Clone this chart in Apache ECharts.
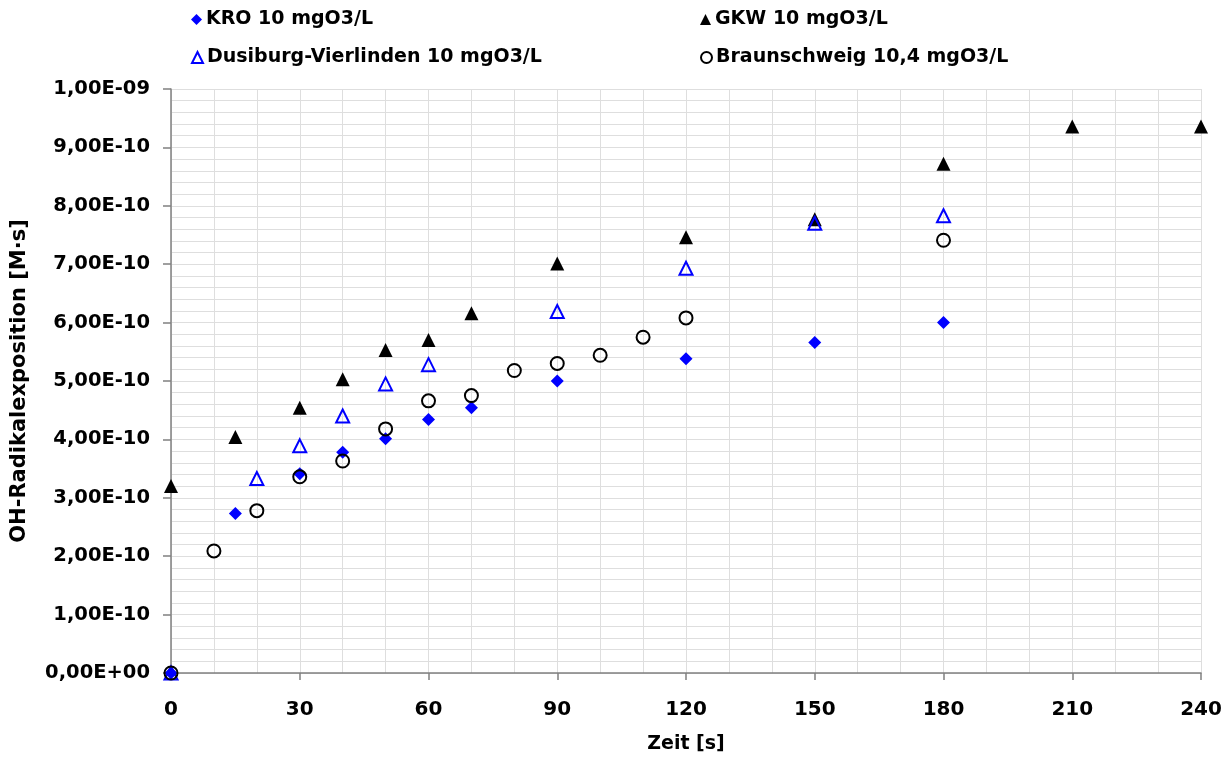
<!DOCTYPE html>
<html>
<head>
<meta charset="utf-8">
<script src="https://cdn.jsdelivr.net/npm/echarts@6/dist/echarts.min.js"></script>
<style>
  html, body { margin: 0; padding: 0; background: #fff; }
  #main { width: 1228px; height: 760px; }
</style>
</head>
<body>
<div id="main"></div>
<script>
// Zeit [s] / OH-Radikalexposition [M·s]
const kroX = [0, 15, 30, 40, 50, 60, 70, 90, 120, 150, 180];
const kroY = [0, 2.73e-10, 3.41e-10, 3.78e-10, 4.01e-10, 4.34e-10, 4.54e-10, 5.00e-10, 5.38e-10, 5.66e-10, 6.00e-10];

const gkwX = [0, 15, 30, 40, 50, 60, 70, 90, 120, 150, 180, 210, 240];
const gkwY = [3.20e-10, 4.04e-10, 4.54e-10, 5.03e-10, 5.53e-10, 5.70e-10, 6.16e-10, 7.01e-10, 7.46e-10, 7.77e-10, 8.72e-10, 9.36e-10, 9.36e-10];

const duiX = [0, 20, 30, 40, 50, 60, 90, 120, 150, 180];
const duiY = [0, 3.33e-10, 3.89e-10, 4.40e-10, 4.95e-10, 5.28e-10, 6.19e-10, 6.93e-10, 7.70e-10, 7.83e-10];

const braX = [0, 10, 20, 30, 40, 50, 60, 70, 80, 90, 100, 110, 120, 180];
const braY = [0, 2.09e-10, 2.78e-10, 3.36e-10, 3.63e-10, 4.18e-10, 4.66e-10, 4.75e-10, 5.18e-10, 5.30e-10, 5.44e-10, 5.75e-10, 6.08e-10, 7.41e-10];

const names = ["KRO 10 mgO3/L", "GKW 10 mgO3/L", "Dusiburg-Vierlinden 10 mgO3/L", "Braunschweig 10,4 mgO3/L"];

function pairs(xs, ys) {
  return xs.map((x, i) => [x, ys[i]]);
}

function fmtExp(v) {
  let s = Number(v).toExponential(2); // e.g. 3.00e-10
  let parts = s.split("e");
  let mant = parts[0].replace(".", ",");
  let e = parseInt(parts[1], 10);
  let sign = e < 0 ? "-" : "+";
  let ea = Math.abs(e);
  return mant + "E" + sign + (ea < 10 ? "0" + ea : ea);
}

const font = "DejaVu Sans";
const gridColor = "#dedede";
const axisColor = "#808080";

let chart = echarts.init(document.getElementById("main"));

function legendAt(name, left, top) {
  return {
    data: [name],
    left: left,
    top: top,
    itemWidth: 11,
    itemHeight: 11,
    itemGap: 0,
    textStyle: { fontFamily: font, fontWeight: "bold", fontSize: 19, color: "#000", padding: [0, 0, 0, -1] },
  };
}

let option = {
  animation: false,
  backgroundColor: "#fff",
  legend: [
    legendAt(names[0], 186, 5),
    legendAt(names[1], 695, 5),
    legendAt(names[2], 186, 43),
    legendAt(names[3], 695, 43),
  ],
  grid: { left: 171, right: 27, top: 89, bottom: 87 },
  xAxis: {
    type: "value",
    min: 0,
    max: 240,
    interval: 30,
    name: "Zeit [s]",
    nameLocation: "middle",
    nameGap: 62,
    nameTextStyle: { fontFamily: font, fontWeight: "bold", fontSize: 19, color: "#000" },
    axisLine: { show: true, lineStyle: { color: axisColor, width: 1.5 } },
    axisTick: { show: true, length: 7, lineStyle: { color: axisColor, width: 1.5 } },
    axisLabel: { margin: 27, fontFamily: font, fontWeight: "bold", fontSize: 20, color: "#000" },
    splitLine: { show: true, lineStyle: { color: gridColor, width: 1 } },
    minorTick: { show: false, splitNumber: 3 },
    minorSplitLine: { show: true, lineStyle: { color: gridColor, width: 1 } },
  },
  yAxis: {
    type: "value",
    min: 0,
    max: 1e-9,
    interval: 1e-10,
    name: "OH-Radikalexposition [M·s]",
    nameLocation: "middle",
    nameGap: 141,
    nameTextStyle: { fontFamily: font, fontWeight: "bold", fontSize: 21, color: "#000" },
    axisLine: { show: true, lineStyle: { color: axisColor, width: 1.5 } },
    axisTick: { show: true, length: 8, lineStyle: { color: axisColor, width: 1.5 } },
    axisLabel: {
      margin: 21,
      fontFamily: font,
      fontWeight: "bold",
      fontSize: 19.5,
      color: "#000",
      formatter: fmtExp,
    },
    splitLine: { show: true, lineStyle: { color: gridColor, width: 1 } },
    minorTick: { show: false, splitNumber: 5 },
    minorSplitLine: { show: true, lineStyle: { color: gridColor, width: 1 } },
  },
  series: [
    {
      name: names[0],
      type: "scatter",
      symbol: "diamond",
      symbolSize: 13,
      itemStyle: { color: "#0000ff", opacity: 1 },
      data: pairs(kroX, kroY),
    },
    {
      name: names[1],
      type: "scatter",
      symbol: "triangle",
      symbolSize: 14,
      itemStyle: { color: "#000000", opacity: 1 },
      data: pairs(gkwX, gkwY),
    },
    {
      name: names[2],
      type: "scatter",
      symbol: "triangle",
      symbolSize: 13,
      itemStyle: { color: "rgba(255,255,255,0)", borderColor: "#0000ff", borderWidth: 2, opacity: 1 },
      data: pairs(duiX, duiY),
    },
    {
      name: names[3],
      type: "scatter",
      symbol: "circle",
      symbolSize: 13,
      itemStyle: { color: "rgba(255,255,255,0)", borderColor: "#000000", borderWidth: 2, opacity: 1 },
      data: pairs(braX, braY),
    },
  ],
};

chart.setOption(option);
</script>
</body>
</html>
